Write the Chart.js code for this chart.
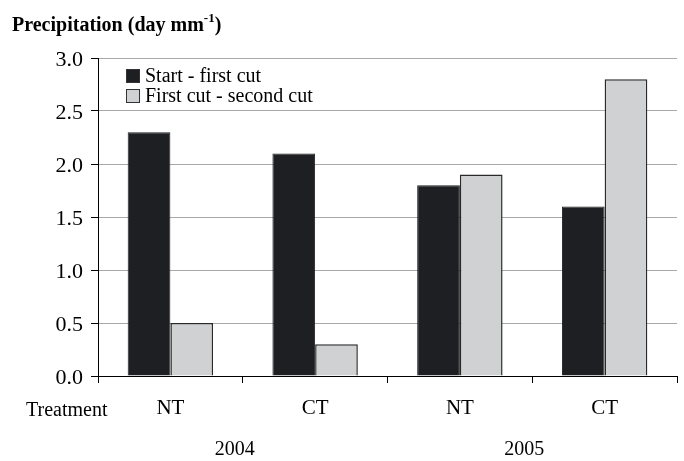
<!DOCTYPE html>
<html>
<head>
<meta charset="utf-8">
<script src="https://cdn.jsdelivr.net/npm/chart.js@4"></script>
<style>
  html, body { margin: 0; padding: 0; background: #fff; }
  #wrap { width: 684px; height: 461px; }
</style>
</head>
<body>
<div id="wrap"><canvas id="myChart" width="684" height="461"></canvas></div>
<script>
const treatments = ['NT', 'CT', 'NT', 'CT'];
const years = ['2004', '2005'];
const startFirstCut = [2.3, 2.1, 1.8, 1.6];
const firstSecondCut = [0.5, 0.3, 1.9, 2.8];
const yTicks = [0, 0.5, 1, 1.5, 2, 2.5, 3];

const serif = '"Liberation Serif", "DejaVu Serif", serif';

// title, legend, "Treatment" and year labels
const extras = {
  id: 'extras',
  afterDraw(chart) {
    const c = chart.ctx;
    const x = chart.scales.x;
    c.save();
    c.fillStyle = '#000';
    c.textBaseline = 'alphabetic';
    c.textAlign = 'left';
    c.font = 'bold 20px ' + serif;
    const t = 'Precipitation (day mm';
    c.fillText(t, 12, 31);
    let w = c.measureText(t).width;
    c.font = 'bold 13px ' + serif;
    c.fillText('-1', 12 + w, 22);
    const w2 = c.measureText('-1').width;
    c.font = 'bold 20px ' + serif;
    c.fillText(')', 12 + w + w2, 31);

    // legend
    c.font = '20px ' + serif;
    chart.data.datasets.forEach((ds, i) => {
      const y = 69 + i * 20;
      c.fillStyle = ds.backgroundColor;
      c.fillRect(126, y, 14, 14);
      c.strokeStyle = '#333';
      c.lineWidth = 1;
      c.strokeRect(126.5, y + 0.5, 13, 13);
      c.fillStyle = '#000';
      c.textBaseline = 'middle';
      c.fillText(ds.label, 145, y + 8);
    });

    c.textBaseline = 'middle';
    c.fillText('Treatment', 26, 411);
    c.textAlign = 'center';
    years.forEach((yr, i) => {
      const mid = (x.getPixelForValue(i * 2) + x.getPixelForValue(i * 2 + 1)) / 2;
      c.fillText(yr, mid - 8, 450);
    });
    c.restore();
  }
};

new Chart(document.getElementById('myChart'), {
  type: 'bar',
  data: {
    labels: treatments,
    datasets: [
      {
        label: 'Start - first cut',
        data: startFirstCut,
        backgroundColor: '#1e1f23',
        borderColor: '#1e1f23',
        borderWidth: 1,
      },
      {
        label: 'First cut - second cut',
        data: firstSecondCut,
        backgroundColor: '#d0d1d3',
        borderColor: '#2a2a2a',
        borderWidth: 1.5,
      },
    ],
  },
  options: {
    responsive: false,
    animation: false,
    layout: { padding: { left: 0, right: 7, top: 58, bottom: 0 } },
    datasets: { bar: { categoryPercentage: 0.59, barPercentage: 1 } },
    plugins: { legend: { display: false }, tooltip: { enabled: false } },
    scales: {
      x: {
        afterFit: s => { s.height = 85; },
        border: { display: true, color: '#000', width: 1 },
        grid: {
          offset: true,
          drawOnChartArea: true,
          color: ctx => (ctx.index === 4 ? '#9a9a9a' : 'rgba(0,0,0,0)'),
          tickColor: '#000',
          tickLength: 7,
        },
        ticks: { color: '#000', font: { family: serif, size: 21 }, padding: 13 },
      },
      y: {
        min: 0,
        max: 3,
        afterFit: s => { s.width = 98; },
        afterBuildTicks: s => { s.ticks = yTicks.map(v => ({ value: v })); },
        border: { display: true, color: '#000', width: 1 },
        grid: { color: '#a8a8a8', tickColor: '#000', tickLength: 7 },
        ticks: {
          color: '#000',
          font: { family: serif, size: 22 },
          padding: 8,
          labelOffset: 2,
          callback: v => Number(v).toFixed(1),
        },
      },
    },
  },
  plugins: [extras],
});
</script>
</body>
</html>
